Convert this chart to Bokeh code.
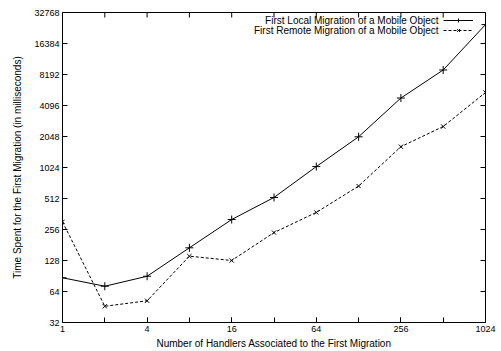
import math
from bokeh.plotting import figure
from bokeh.models import (Range1d, FixedTicker, NumeralTickFormatter,
                          Legend, LegendItem, Label)
from bokeh.embed import file_html
from bokeh.resources import INLINE

# ---- data ----
handlers = [1, 2, 4, 8, 16, 32, 64, 128, 256, 512, 1024]
local_ms = [87, 72, 90, 170, 320, 524, 1045, 2035, 4840, 9060, 25000]
remote_ms = [304, 46, 52, 141, 128, 239, 375, 676, 1630, 2560, 5480]
series_names = ["First Local Migration of a Mobile Object",
                "First Remote Migration of a Mobile Object"]
x_label_ticks = [1, 4, 16, 64, 256, 1024]
x_all_ticks = [1, 2, 4, 8, 16, 32, 64, 128, 256, 512, 1024]
y_ticks = [32, 64, 128, 256, 512, 1024, 2048, 4096, 8192, 16384, 32768]
x_title = "Number of Handlers Associated to the First Migration"
y_title = "Time Spent for the First Migration (in milliseconds)"

FONT = "Liberation Sans"

x_range = Range1d(1, 1024)
y_range = Range1d(32, 32768)
p = figure(width=501, height=351, x_axis_type="log", y_axis_type="log",
           x_range=x_range, y_range=y_range,
           output_backend="svg", toolbar_location=None,
           min_border_left=62, min_border_right=16,
           min_border_top=12, min_border_bottom=29)
p.background_fill_color = "white"
p.border_fill_color = "white"
p.outline_line_color = "black"
p.outline_line_width = 1
p.outline_line_alpha = 1
p.xgrid.visible = False
p.ygrid.visible = False

def style_axis(ax, ticks, minor):
    ax.ticker = FixedTicker(ticks=ticks, minor_ticks=minor)
    ax.formatter = NumeralTickFormatter(format="0")
    ax.axis_line_color = None
    ax.major_tick_in = 5
    ax.major_tick_out = 0
    ax.minor_tick_in = 5
    ax.minor_tick_out = 0
    ax.major_tick_line_color = "black"
    ax.minor_tick_line_color = "black"
    ax.major_label_text_font = FONT
    ax.major_label_text_font_size = "9px"
    ax.major_label_text_color = "black"
    ax.major_label_standoff = 3
    ax.axis_label_text_font = FONT
    ax.axis_label_text_font_size = "10px"
    ax.axis_label_text_font_style = "normal"
    ax.axis_label_text_color = "black"

xa = p.xaxis[0]
style_axis(xa, x_label_ticks, x_all_ticks)
xa.axis_label = x_title
xa.axis_label_standoff = 3

ya = p.yaxis[0]
style_axis(ya, y_ticks, [])
ya.axis_label = y_title
ya.axis_label_standoff = 8

# mirrored tick marks on the top and right edges (clipped to the frame)
p.scatter(x_all_ticks, [y_range.end] * len(x_all_ticks), marker="dash",
          angle=math.pi / 2, size=10, line_color="black", line_width=1)
p.scatter([x_range.end] * len(y_ticks), y_ticks, marker="dash",
          size=10, line_color="black", line_width=1)

l1 = p.line(handlers, local_ms, line_color="black", line_width=1)
m1 = p.scatter(handlers, local_ms, marker="cross", size=8,
               line_color="black", line_width=1)
l2 = p.line(handlers, remote_ms, line_color="black", line_width=1,
            line_dash="3 2")
m2 = p.scatter(handlers, remote_ms, marker="x", size=6,
               line_color="black", line_width=1)

legend = Legend(items=[LegendItem(label="", renderers=[l1, m1]),
                       LegendItem(label="", renderers=[l2, m2])],
                location=(381, 287), padding=0, margin=0, spacing=0,
                glyph_width=30, glyph_height=10, label_height=10,
                label_width=0, label_standoff=0,
                border_line_color=None, background_fill_alpha=0)
p.add_layout(legend, "center")

for i, name in enumerate(series_names):
    p.add_layout(Label(x=376, y=302 - 10 * i, x_units="screen",
                       y_units="screen", text=name, text_align="right",
                       text_baseline="middle", text_font=FONT,
                       text_font_size="10px", text_color="black"))

open("out.html", "w").write(file_html(p, INLINE))
